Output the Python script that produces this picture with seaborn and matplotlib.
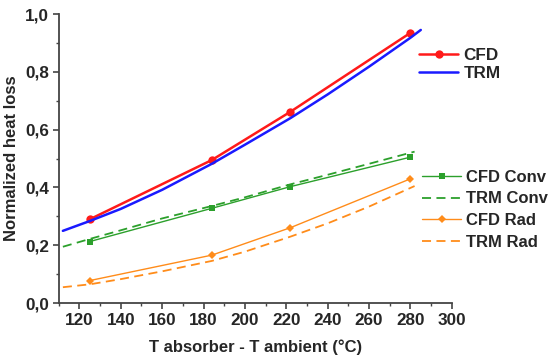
import numpy as np
import pandas as pd
import matplotlib
matplotlib.use('Agg')
import matplotlib.pyplot as plt
import seaborn as sns
from matplotlib.ticker import MultipleLocator, FuncFormatter

# CFD simulation points
cfd_x = [125, 184, 222, 280]
cfd_total = [0.290, 0.495, 0.662, 0.935]
cfd_conv = [0.213, 0.328, 0.403, 0.505]
cfd_rad = [0.078, 0.166, 0.261, 0.430]

# TRM curves
trm_x = [112, 125, 140, 160, 184, 200, 222, 240, 260, 280, 285]
trm_total = [0.250, 0.284, 0.326, 0.392, 0.482, 0.548, 0.640, 0.722, 0.818, 0.918, 0.945]
trm_conv_x = [112, 125, 140, 160, 184, 200, 222, 240, 260, 282]
trm_conv = [0.195, 0.222, 0.252, 0.293, 0.336, 0.366, 0.411, 0.444, 0.482, 0.524]
trm_rad_x = [112, 125, 140, 160, 184, 200, 222, 240, 260, 282]
trm_rad = [0.055, 0.065, 0.083, 0.110, 0.146, 0.178, 0.230, 0.276, 0.334, 0.405]

sns.set_style("ticks")
plt.rcParams['font.family'] = ['Liberation Sans', 'DejaVu Sans']
plt.rcParams['font.weight'] = 'bold'

fig = plt.figure(figsize=(5.49, 3.6), dpi=100)
ax = fig.add_axes([0.107, 0.158, 0.716, 0.803])

red = '#ff1a1a'
blue = '#1a1aff'
green = '#2ca02c'
orange = '#ff8c1a'

sns.lineplot(x=cfd_x, y=cfd_total, ax=ax, color=red, lw=1.8, marker='o', ms=6,
             markeredgewidth=0, label='CFD')
sns.lineplot(x=trm_x, y=trm_total, ax=ax, color=blue, lw=1.8, label='TRM')
sns.lineplot(x=cfd_x, y=cfd_conv, ax=ax, color=green, lw=1.0, marker='s', ms=4.5,
             markeredgewidth=0, label='CFD Conv')
sns.lineplot(x=trm_conv_x, y=trm_conv, ax=ax, color=green, lw=1.3, linestyle=(0, (5, 3)),
             label='TRM Conv')
sns.lineplot(x=cfd_x, y=cfd_rad, ax=ax, color=orange, lw=1.0, marker='D', ms=4.5,
             markeredgewidth=0, label='CFD Rad')
sns.lineplot(x=trm_rad_x, y=trm_rad, ax=ax, color=orange, lw=1.3, linestyle=(0, (5, 3)),
             label='TRM Rad')

ax.set_xlim(110, 300)
ax.set_ylim(0, 1.0)
ax.xaxis.set_major_locator(MultipleLocator(20))
ax.xaxis.set_minor_locator(MultipleLocator(10))
ax.yaxis.set_major_locator(MultipleLocator(0.2))
ax.yaxis.set_minor_locator(MultipleLocator(0.1))
ax.yaxis.set_major_formatter(FuncFormatter(lambda v, p: f'{v:.1f}'.replace('.', ',')))
ax.tick_params(which='major', length=4, width=1.2, color='#444444', labelsize=12.3, pad=3)
ax.tick_params(which='minor', length=2.5, width=1.0, color='#444444')
for lab in ax.get_xticklabels() + ax.get_yticklabels():
    lab.set_fontweight('bold')
sns.despine(ax=ax)
for s in ['left', 'bottom']:
    ax.spines[s].set_linewidth(1.3)
    ax.spines[s].set_color('#444444')

ax.set_xlabel('T absorber - T ambient (°C)', fontsize=12, fontweight='bold', labelpad=8)
ax.set_ylabel('Normalized heat loss', fontsize=12, fontweight='bold', labelpad=4)

handles, labels = ax.get_legend_handles_labels()
ax.get_legend().remove()
leg1 = fig.legend(handles[:2], labels[:2], loc='upper left', bbox_to_anchor=(0.735, 0.91),
                  frameon=False, prop={'size': 12.3, 'weight': 'bold'}, handlelength=2.3,
                  handletextpad=0.3, labelspacing=0.2)
leg2 = fig.legend(handles[2:], labels[2:], loc='upper left', bbox_to_anchor=(0.742, 0.57),
                  frameon=False, prop={'size': 12, 'weight': 'bold'}, handlelength=2.3,
                  handletextpad=0.3, labelspacing=0.4)

fig.savefig('out.png', dpi=100)
